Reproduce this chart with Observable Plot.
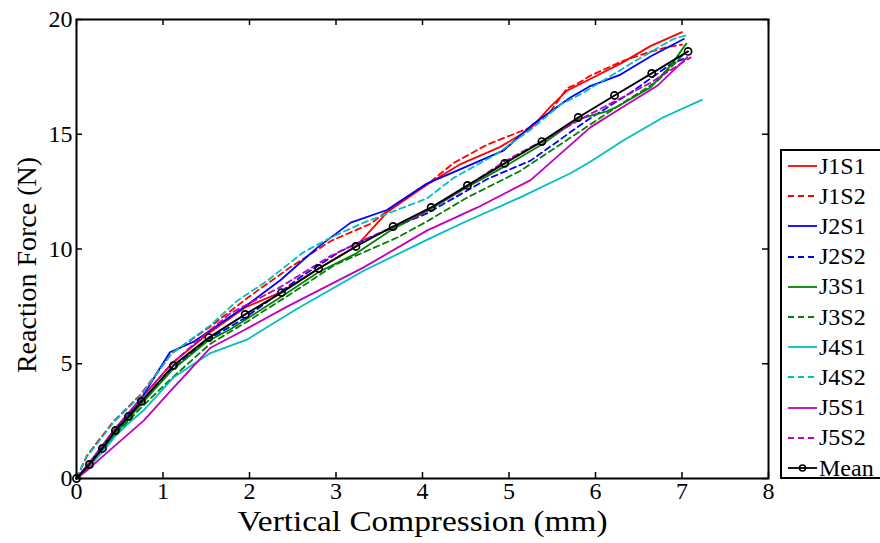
<!DOCTYPE html>
<html><head><meta charset="utf-8">
<script src="https://cdn.jsdelivr.net/npm/d3@7"></script>
<script src="https://cdn.jsdelivr.net/npm/@observablehq/plot@0.6"></script>
<style>
html,body{margin:0;padding:0;background:#fff;overflow:hidden;}
#wrap{position:relative;width:880px;height:543px;overflow:hidden;font-family:"Liberation Serif",serif;}
#legend{position:absolute;left:780px;top:149px;width:130px;height:330px;border:2px solid #000;background:#fff;box-sizing:border-box;}
.item{position:absolute;left:0;height:30px;display:flex;align-items:center;font-size:24px;color:#000;}
.item span{margin-left:1px;}
</style></head><body><div id="wrap"></div>
<script>
// ---- data ----
const seriesNames = ["J1S1","J1S2","J2S1","J2S2","J3S1","J3S2","J4S1","J4S2","J5S1","J5S2"];
const seriesColors = ["#FF0000","#FF0000","#0000FF","#0000FF","#008000","#008000","#00BFBF","#00BFBF","#BF00BF","#BF00BF"];
const seriesDashed = [false,true,false,true,false,true,false,true,false,true];

const j1s1X = [0,0.15,0.3,0.45,0.6,0.75,1.1,1.5,1.95,2.38,2.8,3.23,3.59,4.05,4.44,4.9,5.25,5.48,5.67,5.83,6.3,6.64,7.0];
const j1s1Y = [0,0.7,1.45,2.2,2.85,3.5,5.0,6.25,7.45,8.15,9.15,10.1,11.6,12.8,13.7,14.45,15.25,16.2,16.9,17.2,18.1,18.85,19.45];
const j1s2X = [0,0.12,0.43,0.74,1.1,1.54,1.97,2.47,2.94,3.4,3.71,4.05,4.36,4.75,5.25,5.48,5.67,5.79,5.94,6.32,6.64,6.83,7.0];
const j1s2Y = [0,1.0,2.5,3.65,5.45,6.6,7.85,9.2,10.35,11.1,12.0,12.8,13.75,14.55,15.3,16.0,17.0,17.2,17.55,18.2,18.6,18.8,18.9];
const j2s1X = [0,0.15,0.3,0.45,0.6,0.75,1.08,1.35,1.97,2.36,2.78,3.17,3.59,4.05,4.36,4.94,5.28,5.71,5.94,6.29,6.64,7.02];
const j2s1Y = [0,0.65,1.4,2.15,2.8,3.5,5.5,5.95,7.55,8.65,10.05,11.15,11.7,12.85,13.35,14.3,15.45,16.6,17.1,17.6,18.4,19.15];
const j2s2X = [0,0.15,0.3,0.45,0.6,0.75,1.1,1.5,1.95,2.17,2.6,3.05,3.48,4.05,4.75,5.25,5.9,6.4,6.87,7.06];
const j2s2Y = [0,0.6,1.3,2.0,2.65,3.3,4.75,6.0,7.0,7.6,8.8,9.9,10.65,11.55,13.05,13.85,15.6,16.8,18.05,18.35];
const j3s1X = [0,0.15,0.3,0.45,0.6,0.75,1.1,1.5,1.78,2.38,2.8,3.23,3.67,4.05,4.52,4.95,5.38,5.79,6.13,6.25,6.64,6.87,7.05];
const j3s1Y = [0,0.55,1.25,1.95,2.6,3.25,4.7,5.95,6.5,7.95,9.0,9.8,10.9,11.65,12.7,13.6,14.55,15.65,16.0,16.2,17.05,18.0,18.95];
const j3s2X = [0,0.15,0.3,0.45,0.6,0.75,1.08,1.54,2.0,2.5,2.98,3.71,4.05,4.52,5.13,5.83,6.29,6.71,6.87,7.02];
const j3s2Y = [0,0.55,1.2,1.9,2.5,3.1,4.3,5.85,6.9,8.1,9.3,10.5,11.2,12.25,13.4,15.15,16.3,17.3,17.9,18.5];
const j4s1X = [0,0.15,0.3,0.45,0.6,0.77,1.12,1.54,1.97,2.55,3.32,4.05,4.5,5.13,5.71,5.94,6.33,6.79,7.23];
const j4s1Y = [0,0.55,1.15,1.85,2.4,2.95,4.4,5.45,6.05,7.4,9.05,10.4,11.2,12.25,13.3,13.8,14.75,15.75,16.5];
const j4s2X = [0,0.12,0.43,0.74,1.1,1.54,1.86,2.2,2.62,2.94,3.32,4.05,4.36,4.86,5.25,5.6,5.83,6.29,6.44,6.9,7.04];
const j4s2Y = [0,0.95,2.45,3.6,5.45,6.65,7.75,8.6,9.85,10.5,11.15,12.2,13.1,14.15,15.2,16.3,16.75,17.8,18.15,19.15,19.3];
const j5s1X = [0,0.12,0.3,0.78,1.09,1.55,1.93,2.44,3.32,4.05,4.63,5.25,5.79,5.94,6.32,6.71,7.06];
const j5s1Y = [0,0.35,0.95,2.53,3.83,5.7,6.45,7.5,9.2,10.8,11.8,13.0,14.8,15.3,16.2,17.1,18.35];
const j5s2X = [0,0.15,0.3,0.45,0.6,0.75,1.1,1.46,1.78,2.36,2.94,3.24,3.94,4.5,4.94,5.38,5.9,6.64,7.1];
const j5s2Y = [0,0.65,1.4,2.15,2.85,3.5,5.0,6.2,7.2,8.35,9.7,10.25,11.45,12.7,13.8,14.7,15.8,17.25,18.35];
const meanX = [0,0.15,0.30,0.45,0.60,0.75,1.12,1.53,1.95,2.37,2.80,3.23,3.66,4.10,4.52,4.95,5.38,5.80,6.22,6.65,7.07];
const meanY = [0,0.61,1.31,2.09,2.70,3.36,4.92,6.14,7.15,8.10,9.15,10.11,10.98,11.81,12.77,13.73,14.68,15.73,16.69,17.65,18.61];

const xTicks = [0,1,2,3,4,5,6,7,8];
const yTicks = [0,5,10,15,20];
const xLabel = "Vertical Compression (mm)";
const yLabel = "Reaction Force (N)";

// ---- build ----
const seriesX = [j1s1X,j1s2X,j2s1X,j2s2X,j3s1X,j3s2X,j4s1X,j4s2X,j5s1X,j5s2X];
const seriesY = [j1s1Y,j1s2Y,j2s1Y,j2s2Y,j3s1Y,j3s2Y,j4s1Y,j4s2Y,j5s1Y,j5s2Y];
const series = seriesNames.map((name,i)=>({
  name, color: seriesColors[i], dashed: seriesDashed[i],
  rows: seriesX[i].map((x,k)=>({x, y: seriesY[i][k]}))
}));
const meanRows = meanX.map((x,k)=>({x, y: meanY[k]}));

const W=880, H=543, mL=76, mR=112, mT=19, mB=65;
const innerW = W-mL-mR, innerH = H-mT-mB;

const marks = [];
series.forEach(s=>{
  marks.push(Plot.line(s.rows,{x:"x",y:"y",stroke:s.color,strokeWidth:1.8,strokeDasharray:s.dashed?"6,4":null}));
});
marks.push(Plot.line(meanRows,{x:"x",y:"y",stroke:"#000",strokeWidth:1.9}));
marks.push(Plot.dot(meanRows,{x:"x",y:"y",r:3.6,stroke:"#000",strokeWidth:1.7,fill:"none"}));
marks.push(Plot.tickX(xTicks,{x:d=>d,insetTop:innerH-6,stroke:"#000",strokeWidth:1.5}));
marks.push(Plot.tickX(xTicks,{x:d=>d,insetBottom:innerH-6,stroke:"#000",strokeWidth:1.5}));
marks.push(Plot.tickY(yTicks,{y:d=>d,insetRight:innerW-6,stroke:"#000",strokeWidth:1.5}));
marks.push(Plot.tickY(yTicks,{y:d=>d,insetLeft:innerW-6,stroke:"#000",strokeWidth:1.5}));
marks.push(Plot.frame({stroke:"#000",strokeWidth:2}));
marks.push(Plot.axisX({ticks:xTicks,tickSize:0,tickPadding:3,label:null,fontSize:24,tickFormat:d=>String(d)}));
marks.push(Plot.axisY({ticks:yTicks,tickSize:0,tickPadding:4,label:null,fontSize:24,tickFormat:d=>String(d)}));
marks.push(Plot.text([xLabel],{frameAnchor:"bottom",lineAnchor:"middle",dy:43,fontSize:30,text:d=>d,fill:"#000"}));
marks.push(Plot.text([yLabel],{frameAnchor:"left",lineAnchor:"middle",textAnchor:"middle",dx:-49,dy:16,rotate:-90,fontSize:28,text:d=>d,fill:"#000"}));

const chart = Plot.plot({
  width:W, height:H, marginLeft:mL, marginRight:mR, marginTop:mT, marginBottom:mB,
  x:{domain:[0,8]}, y:{domain:[0,20]},
  style:{fontFamily:"'Liberation Serif', serif", color:"#000", background:"#fff", overflow:"visible"},
  marks
});
const wrap = document.getElementById("wrap");
wrap.appendChild(chart);
// stretch the x-axis title to the reference's width
d3.select(chart).selectAll("text").filter(function(){return this.textContent===xLabel;})
  .attr("textLength",370).attr("lengthAdjust","spacingAndGlyphs");

// ---- legend ----
const legend = document.createElement("div");
legend.id = "legend";
const entries = series.map(s=>({name:s.name,color:s.color,dashed:s.dashed,marker:false}))
  .concat([{name:"Mean",color:"#000",dashed:false,marker:true}]);
entries.forEach((e,i)=>{
  const item = document.createElement("div");
  item.className = "item";
  item.style.top = (0 + i*30.2) + "px";
  const svg = `<svg width="36" height="30" style="display:block"><line x1="6" x2="35" y1="15" y2="15" stroke="${e.color}" stroke-width="1.8" ${e.dashed?'stroke-dasharray="6,4"':''}/>${e.marker?'<circle cx="20.5" cy="15" r="3" fill="none" stroke="#000" stroke-width="1.6"/>':''}</svg>`;
  item.innerHTML = svg + `<span>${e.name}</span>`;
  legend.appendChild(item);
});
wrap.appendChild(legend);
</script></body></html>
